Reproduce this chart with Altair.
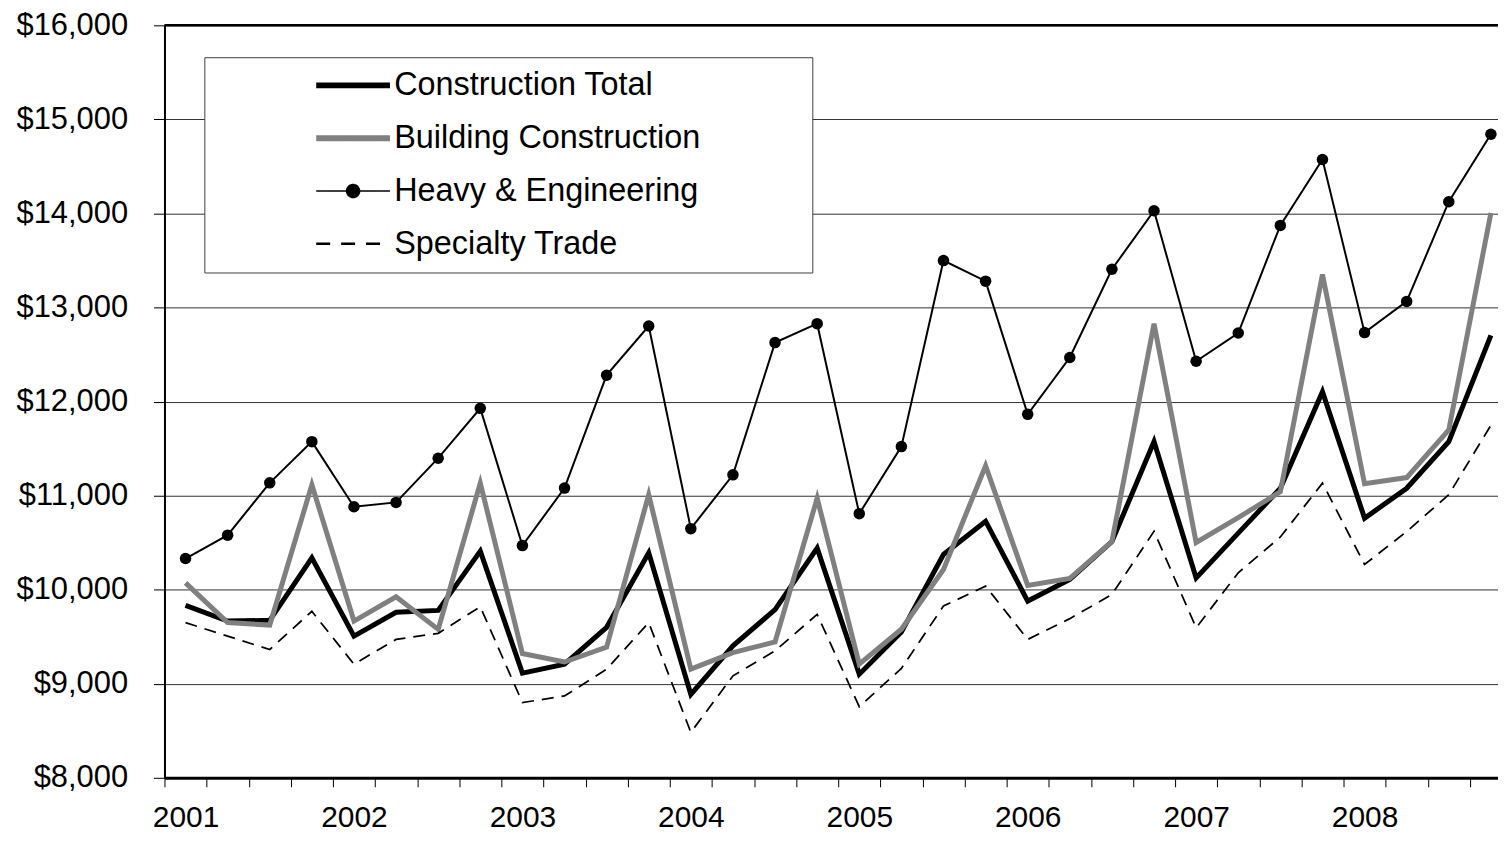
import altair as alt
import pandas as pd

years = ["2001", "2002", "2003", "2004", "2005", "2006", "2007", "2008"]
quarters = ["Q1", "Q2", "Q3", "Q4"]
series_names = ["Construction Total", "Building Construction",
                "Heavy & Engineering", "Specialty Trade"]

construction_total = [9833, 9666, 9674, 10338, 9506, 9760, 9780, 10410,
                      9113, 9208, 9600, 10392, 8887, 9403, 9788, 10442,
                      9102, 9549, 10374, 10728, 9879, 10109, 10512, 11574,
                      10125, 10601, 11078, 12104, 10760, 11078, 11574, 12704]
building_construction = [10072, 9650, 9624, 11115, 9666, 9924, 9578, 11133,
                         9321, 9231, 9390, 11010, 9155, 9331, 9444, 10972,
                         9208, 9579, 10215, 11317, 10045, 10120, 10512, 12828,
                         10502, 10766, 11042, 13351, 11126, 11192, 11698, 14005]
heavy_engineering = [10331, 10580, 11136, 11574, 10882, 10928, 11398, 11928,
                     10469, 11080, 12281, 12803, 10649, 11221, 12627, 12828,
                     10808, 11521, 13499, 13280, 11864, 12468, 13407, 14029,
                     12429, 12729, 13873, 14573, 12733, 13065, 14125, 14842]
specialty_trade = [9650, 9506, 9364, 9770, 9208, 9471, 9536, 9819,
                   8800, 8870, 9155, 9650, 8483, 9084, 9350, 9738,
                   8756, 9163, 9826, 10038, 9471, 9692, 9950, 10620,
                   9595, 10180, 10560, 11133, 10268, 10618, 11010, 11748]

series_values = [construction_total, building_construction,
                 heavy_engineering, specialty_trade]

rows = []
for name, vals in zip(series_names, series_values):
    k = 0
    for yr in years:
        for q in quarters:
            rows.append({"idx": k, "period": f"{yr} {q}", "series": name, "value": vals[k]})
            k += 1
df = pd.DataFrame(rows)
top_df = pd.DataFrame({"v": [16000]})

W, H = 1338, 755
step = 42.25
x_min = -0.5
x_max = x_min + W / step
n = len(years) * len(quarters)
tick_vals = [i - 0.5 for i in range(n + 1) if i - 0.5 <= x_max]

year_arr = "[" + ",".join(f"'{y}'" for y in years) + "]"
x_label_expr = (f"((datum.value + 0.5) % 4 == 0) ? {year_arr}[(datum.value + 0.5) / 4] : ''")

FONT = "Liberation Sans"

x_axis = alt.Axis(values=tick_vals, labelExpr=x_label_expr, labelOffset=step / 2,
                  labelFlush=False, labelOverlap=False, labelBound=False,
                  labelFont=FONT, labelFontSize=30, labelColor="black",
                  labelPadding=16, tickSize=9, tickColor="black", tickWidth=1,
                  domainColor="black", domainWidth=3, grid=False, title=None)
y_axis = alt.Axis(values=list(range(8000, 16001, 1000)), format="$,.0f",
                  labelFont=FONT, labelFontSize=31, labelColor="black",
                  labelPadding=26, tickSize=11, tickColor="black", tickWidth=1,
                  domainColor="black", domainWidth=2, grid=True,
                  gridColor="#333333", gridWidth=1, title=None)

X = alt.X("idx:Q", scale=alt.Scale(domain=[x_min, x_max], nice=False, zero=False), axis=x_axis)
Y = alt.Y("value:Q", scale=alt.Scale(domain=[8000, 16000], nice=False, zero=False), axis=y_axis)

r = 6.5 / 37.0
dot_path = f"M-1,0L1,0M{r:.3f},0A{r:.3f},{r:.3f},0,1,1,-{r:.3f},0A{r:.3f},{r:.3f},0,1,1,{r:.3f},0Z"

legend = alt.Legend(
    title=" ", titleOrient="right", titlePadding=100, titleFontSize=8,
    orient="none", legendX=40, legendY=32, direction="vertical",
    padding=12, rowPadding=20.0, symbolOffset=121, labelOffset=25,
    symbolSize=5476,
    symbolType=alt.ExprRef(expr=f"datum.value === 'Heavy & Engineering' ? '{dot_path}' : 'stroke'"),
    symbolStrokeWidth=alt.ExprRef(expr="(datum.value === 'Construction Total' || datum.value === 'Building Construction') ? 6 : (datum.value === 'Specialty Trade' ? 2.5 : 1.5)"),
    symbolDash=alt.ExprRef(expr="datum.value === 'Specialty Trade' ? [14, 11] : [1, 0]"),
    symbolFillColor=alt.ExprRef(expr="datum.value === 'Heavy & Engineering' ? 'black' : 'transparent'"),
    labelFont=FONT, labelFontSize=32.5, labelColor="black", labelLimit=1000,
    strokeColor="#404040", fillColor="white", cornerRadius=0,
)

color = alt.Color("series:N",
                  scale=alt.Scale(domain=series_names,
                                  range=["#000000", "#808080", "#000000", "#000000"]),
                  legend=legend)

styles = {
    "Construction Total": (5, None),
    "Building Construction": (5, None),
    "Heavy & Engineering": (2, None),
    "Specialty Trade": (1.75, [12, 8]),
}

base = alt.Chart(df)
layers = []
for name in series_names:
    w, dash = styles[name]
    enc = dict(x=X, y=Y, color=color, strokeWidth=alt.value(w))
    if dash:
        enc["strokeDash"] = alt.value(dash)
    layers.append(base.transform_filter(alt.datum.series == name).mark_line().encode(**enc))

points = base.transform_filter(alt.datum.series == "Heavy & Engineering").mark_point(
    filled=True, size=133, color="black", opacity=1).encode(x=X, y=Y)

top_rule = alt.Chart(top_df).mark_rule(color="black", strokeWidth=2.5).encode(
    y=alt.Y("v:Q", scale=alt.Scale(domain=[8000, 16000], nice=False, zero=False)))

chart = alt.layer(*layers, points, top_rule).properties(
    width=W, height=H,
    autosize=alt.AutoSizeParams(type="none"),
    padding={"left": 157, "top": 16, "right": 0, "bottom": 55},
    background="white",
).configure_view(strokeWidth=0)

chart.save("out.html", embed_options={"renderer": "svg", "actions": False})
